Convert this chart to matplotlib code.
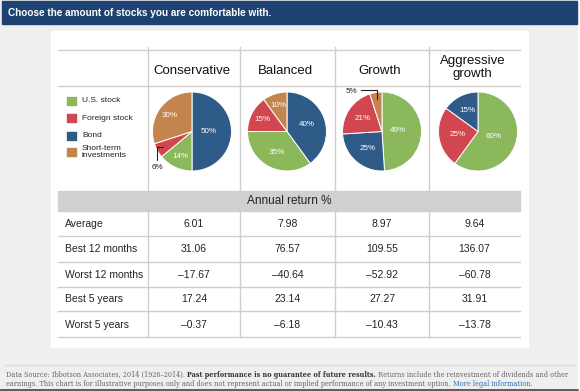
import matplotlib
matplotlib.use("Agg")
import matplotlib.pyplot as plt
from matplotlib.patches import Rectangle
import numpy as np

# ---------------- data ----------------
profiles = ["Conservative", "Balanced", "Growth", "Aggressive\ngrowth"]
asset_classes = ["U.S. stock", "Foreign stock", "Bond", "Short-term\ninvestments"]
us_stock = [14, 35, 49, 60]
foreign_stock = [6, 15, 21, 25]
bond = [50, 40, 25, 15]
short_term = [30, 10, 5, 0]

row_labels = ["Average", "Best 12 months", "Worst 12 months", "Best 5 years", "Worst 5 years"]
average = [6.01, 7.98, 8.97, 9.64]
best_12_months = [31.06, 76.57, 109.55, 136.07]
worst_12_months = [-17.67, -40.64, -52.92, -60.78]
best_5_years = [17.24, 23.14, 27.27, 31.91]
worst_5_years = [-0.37, -6.18, -10.43, -13.78]

header_title = "Choose the amount of stocks you are comfortable with."
band_title = "Annual return %"
footer_1a = "Data Source: Ibbotson Associates, 2014 (1926\u20132014). "
footer_1b = "Past performance is no guarantee of future results."
footer_1c = " Returns include the reinvestment of dividends and other"
footer_2a = "earnings. This chart is for illustrative purposes only and does not represent actual or implied performance of any investment option. "
footer_2b = "More legal information."

# ---------------- style ----------------
colors = ["#8cb85c", "#d1464f", "#2e5b87", "#c3844e"]
slice_order = [[2, 0, 1, 3], [2, 0, 1, 3], [0, 2, 1, 3], [0, 1, 2, 3]]
label_dist = [[0.42, 0.69, None, 0.71], [0.54, 0.60, 0.69, 0.68],
              [0.41, 0.56, 0.58, None], [0.41, 0.51, 0.60, None]]
SANS = ["Liberation Sans", "DejaVu Sans"]
SERIF = ["DejaVu Serif"]

W, H = 580, 391
fig = plt.figure(figsize=(W / 100, H / 100), dpi=100, facecolor="#efefef")
ax = fig.add_axes([0, 0, 1, 1])
ax.set_xlim(0, W)
ax.set_ylim(H, 0)
ax.axis("off")

# frame
ax.add_patch(Rectangle((578, 0), 2, H, color="white", zorder=0))
ax.add_patch(Rectangle((2, 1), 575, 23, color="#1e4272", zorder=1))
ax.text(8, 12.5, header_title, color="white", fontsize=7.2, fontweight="bold",
        family=SANS, va="center", ha="left")
ax.add_patch(Rectangle((51, 31), 477, 316, color="white", zorder=1))

# table layout
tx0, tx1 = 58, 520
col_x = [148, 240, 335, 429]
col_centers = [(col_x[i] + (col_x[i + 1] if i < 3 else tx1)) / 2 for i in range(4)]
line_c = "#cfcfcf"
ax.plot([tx0, tx1], [49.5, 49.5], color=line_c, lw=1.0, zorder=2)
ax.plot([tx0, tx1], [86, 86], color=line_c, lw=1.0, zorder=2)
for x in col_x:
    ax.plot([x, x], [47, 191], color=line_c, lw=1.0, zorder=2)
    ax.plot([x, x], [211, 337], color=line_c, lw=1.0, zorder=2)
ax.add_patch(Rectangle((tx0, 191), tx1 - tx0, 20, color="#d0d0d0", zorder=2))
ax.text((tx0 + tx1) / 2, 201.5, band_title, fontsize=8.5, family=SANS,
        ha="center", va="center", color="#222222", zorder=3)

row_tops = [211, 236, 262, 287, 311, 337]
for y in row_tops[1:]:
    ax.plot([tx0, tx1], [y, y], color=line_c, lw=1.0, zorder=2)

rows = [average, best_12_months, worst_12_months, best_5_years, worst_5_years]
for i, (lab, vals) in enumerate(zip(row_labels, rows)):
    yc = (row_tops[i] + row_tops[i + 1]) / 2 + 0.5
    ax.text(65, yc, lab, fontsize=7.5, family=SANS, ha="left", va="center", color="#222222")
    for j, v in enumerate(vals):
        s = f"{v:.2f}".replace("-", "\u2013")
        ax.text(col_centers[j], yc, s, fontsize=7.5, family=SANS, ha="center",
                va="center", color="#222222")

# column titles
for j, p in enumerate(profiles):
    ax.text(col_centers[j] - 2, 71 if "\n" not in p else 67.5, p, fontsize=9.5, family=SANS,
            ha="center", va="center", color="#111111", linespacing=1.1)

# legend
leg_y = [100.5, 118, 135.5, 152]
for k, name in enumerate(asset_classes):
    ax.add_patch(Rectangle((67, leg_y[k] - 4), 9, 8, color=colors[k], zorder=3))
    ax.text(82, leg_y[k], name, fontsize=6, family=SANS, ha="left", va="center",
            color="#222222", linespacing=0.95)

# pies
alloc = np.array([us_stock, foreign_stock, bond, short_term])
pie_cx = [192, 287, 382, 478]
pie_cy, pie_r = 131.5, 39.5
for j in range(4):
    cx = pie_cx[j]
    pax = fig.add_axes([(cx - pie_r) / W, 1 - (pie_cy + pie_r) / H, 2 * pie_r / W, 2 * pie_r / H])
    order = [k for k in slice_order[j] if alloc[k, j] > 0]
    vals = [alloc[k, j] for k in order]
    cols = [colors[k] for k in order]
    wedges, _ = pax.pie(vals, colors=cols, startangle=90, counterclock=False, radius=1,
                        wedgeprops=dict(edgecolor="white", linewidth=0.7))
    pax.set_xlim(-1, 1)
    pax.set_ylim(-1, 1)
    pax.set_aspect("equal")
    pax.axis("off")
    for n, (w, v) in enumerate(zip(wedges, vals)):
        th = np.deg2rad((w.theta1 + w.theta2) / 2)
        d = label_dist[j][n]
        if d is not None:
            pax.text(d * np.cos(th), d * np.sin(th), f"{v}%", color="white", fontsize=5.8,
                     family=SANS, ha="center", va="center")
        else:
            xy = (0.84 * np.cos(th), 0.84 * np.sin(th))
            if np.sin(th) < 0:
                pax.annotate(f"{v}%", xy=xy, xytext=(-3.6, -14.5), textcoords="offset points",
                             fontsize=5.8, family=SANS, ha="center", va="center", color="#222222",
                             annotation_clip=False,
                             arrowprops=dict(arrowstyle="-", color="#222222", lw=0.8,
                                             connectionstyle="angle,angleA=90,angleB=0,rad=0",
                                             relpos=(0.45, 1.0), shrinkA=1, shrinkB=0))
            else:
                pax.annotate(f"{v}%", xy=xy, xytext=(-18, 5), textcoords="offset points",
                             fontsize=5.8, family=SANS, ha="center", va="center", color="#222222",
                             annotation_clip=False,
                             arrowprops=dict(arrowstyle="-", color="#222222", lw=0.8,
                                             connectionstyle="angle,angleA=0,angleB=90,rad=0",
                                             relpos=(1.0, 0.75), shrinkA=0.5, shrinkB=0))

# footer
ax.plot([5, 575], [364.5, 364.5], color="#dcdcdc", lw=1.0)
fs = 4.7
t1 = ax.text(6, 375, footer_1a, fontsize=fs, family=SERIF, color="#666666", ha="left", va="center")
t2 = ax.annotate(footer_1b, xy=(1, 0), xycoords=t1, fontsize=fs, family=SERIF, color="#333333",
                 fontweight="bold", ha="left", va="bottom")
t3 = ax.annotate(footer_1c, xy=(1, 0), xycoords=t2, fontsize=fs, family=SERIF, color="#666666",
                 ha="left", va="bottom")
t4 = ax.text(6, 384.5, footer_2a, fontsize=fs, family=SERIF, color="#666666", ha="left", va="center")
t5 = ax.annotate(footer_2b, xy=(1, 0), xycoords=t4, fontsize=fs, family=SERIF, color="#2a6ebb",
                 ha="left", va="bottom")
ax.plot([0, 578], [389.5, 389.5], color="#444444", lw=1.2)

fig.savefig("out.png", dpi=100, facecolor=fig.get_facecolor())
